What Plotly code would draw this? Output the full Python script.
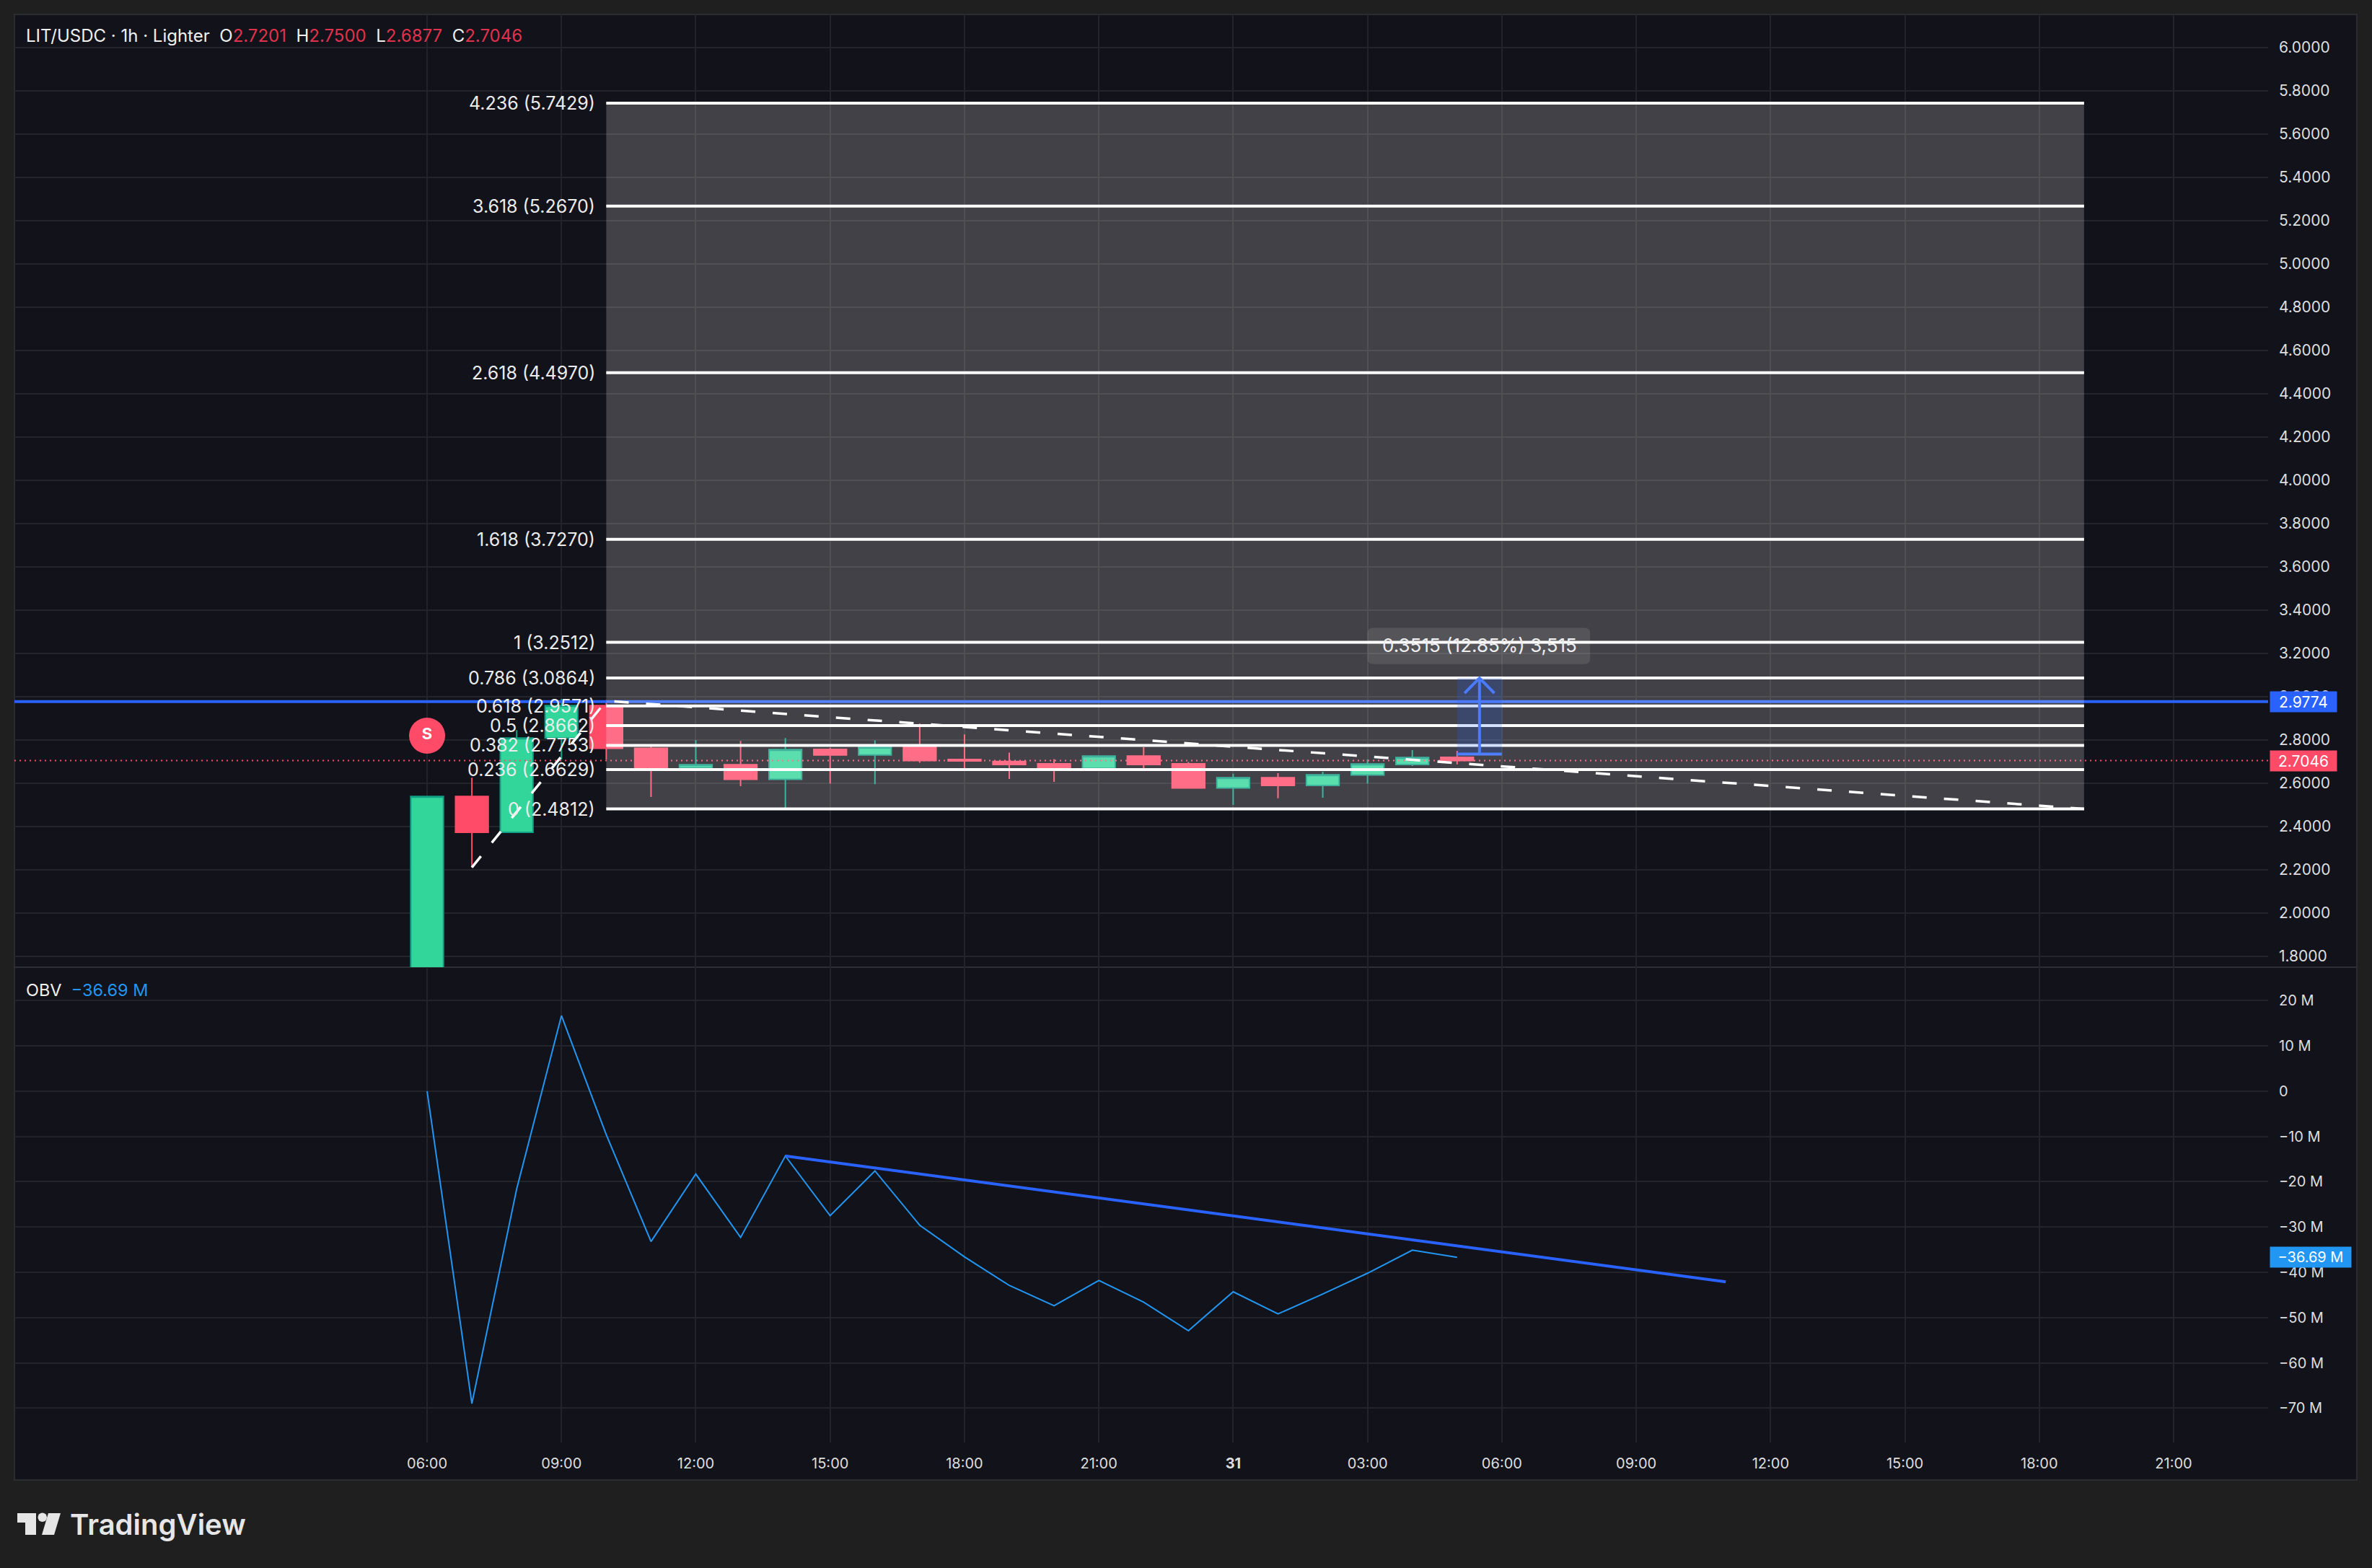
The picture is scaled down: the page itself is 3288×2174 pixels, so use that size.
import plotly.graph_objects as go

W, H = 3288, 2174
FONT = "Inter"

# hours counted from the 06:00 candle of the first day
hours = list(range(24))
opens = [1.50, 2.539, 2.373, 2.809, 2.959, 2.762, 2.671, 2.686, 2.618, 2.757, 2.731, 2.767,
         2.710, 2.701, 2.690, 2.669, 2.726, 2.690, 2.578, 2.626, 2.590, 2.638, 2.687, 2.7201]
highs = [2.539, 2.626, 2.846, 2.990, 2.984, 2.781, 2.800, 2.796, 2.809, 2.764, 2.798, 2.876,
         2.826, 2.742, 2.712, 2.726, 2.767, 2.698, 2.644, 2.647, 2.653, 2.711, 2.753, 2.7500]
lows = [1.50, 2.211, 2.373, 2.709, 2.709, 2.537, 2.671, 2.587, 2.487, 2.598, 2.596, 2.695,
        2.668, 2.620, 2.607, 2.669, 2.668, 2.578, 2.500, 2.531, 2.533, 2.598, 2.680, 2.6877]
closes = [2.539, 2.373, 2.809, 2.959, 2.762, 2.670, 2.686, 2.618, 2.756, 2.731, 2.767, 2.705,
          2.703, 2.687, 2.668, 2.726, 2.687, 2.578, 2.626, 2.590, 2.639, 2.689, 2.719, 2.7046]
obv = [0, -69.0, -21.6, 16.7, -9.6, -33.2, -18.3, -32.3, -14.3, -27.5, -17.6, -29.6,
       -36.6, -42.9, -47.4, -41.8, -46.6, -52.9, -44.3, -49.2, -44.8, -40.2, -35.1, -36.69]

# fib extension
fib_levels = ["0", "0.236", "0.382", "0.5", "0.618", "0.786", "1", "1.618", "2.618", "3.618", "4.236"]
fib_prices = [2.4812, 2.6629, 2.7753, 2.8662, 2.9571, 3.0864, 3.2512, 3.7270, 4.4970, 5.2670, 5.7429]
fib_hours = [4, 37]
zigzag_hours = [1, 4, 37]
zigzag_prices = [2.2112, 2.9812, 2.4812]

# OBV trend line and the ruler
obv_trend_hours = [8, 29]
obv_trend_values = [-14.3, -42.1]
ruler_hours = [23, 24]
ruler_prices = [2.7349, 3.0864]
ruler_box_hours = [21, 25.97]
ruler_box_prices = [3.151, 3.318]
alert_price = 2.9774
last_price = 2.7046
sell_hour, sell_price = 0, 2.82

price_ticks = [1.8, 2.0, 2.2, 2.4, 2.6, 2.8, 3.0, 3.2, 3.4, 3.6, 3.8, 4.0, 4.2, 4.4, 4.6, 4.8,
               5.0, 5.2, 5.4, 5.6, 5.8, 6.0]
obv_ticks = [20, 10, 0, -10, -20, -30, -40, -50, -60, -70]
obv_labels = ["20 M", "10 M", "0", "−10 M", "−20 M", "−30 M", "−40 M", "−50 M", "−60 M", "−70 M"]
time_ticks = [0, 3, 6, 9, 12, 15, 18, 21, 24, 27, 30, 33, 36, 39]
time_labels = ["06:00", "09:00", "12:00", "15:00", "18:00", "21:00", "<b>31</b>", "03:00",
               "06:00", "09:00", "12:00", "15:00", "18:00", "21:00"]

x_range = [-9.215, 41.11]
price_range = [1.75, 6.153]
obv_range = [-77.6, 27.4]

GREEN = "#33d69a"
GREEN_EDGE = "#11a186"
RED = "#ff4a68"
BLUE = "#2962ff"
OBV_BLUE = "#2196f3"
GRID = "#23232a"
TEXT = "#dedede"


def px(x):
    return x / W


def py(y):
    return 1 - y / H


def round_box(x0, x1, y0, y1, rx, ry):
    return (f"M {x0 + rx} {y0} L {x1 - rx} {y0} Q {x1} {y0} {x1} {y0 + ry} L {x1} {y1 - ry} "
            f"Q {x1} {y1} {x1 - rx} {y1} L {x0 + rx} {y1} Q {x0} {y1} {x0} {y1 - ry} "
            f"L {x0} {y0 + ry} Q {x0} {y0} {x0 + rx} {y0} Z")


fig = go.Figure()

fig.add_trace(go.Candlestick(
    x=hours, open=opens, high=highs, low=lows, close=closes, xaxis="x", yaxis="y",
    increasing=dict(fillcolor=GREEN, line=dict(color=GREEN_EDGE, width=2)),
    decreasing=dict(fillcolor=RED, line=dict(color=RED, width=2)),
    whiskerwidth=0,
))
# alert line, last price, then the drawings
fig.add_trace(go.Scatter(x=x_range, y=[alert_price, alert_price], mode="lines",
                         line=dict(color=BLUE, width=4), xaxis="x", yaxis="y"))
fig.add_trace(go.Scatter(x=x_range, y=[last_price, last_price], mode="lines",
                         line=dict(color=RED, width=2, dash="2px,5px"), xaxis="x", yaxis="y"))
for p in fib_prices:
    fig.add_trace(go.Scatter(x=fib_hours, y=[p, p], mode="lines",
                             line=dict(color="#ffffff", width=4), xaxis="x", yaxis="y"))
fig.add_trace(go.Scatter(x=zigzag_hours, y=zigzag_prices, mode="lines",
                         line=dict(color="#ffffff", width=3.5, dash="20px,24px"), xaxis="x", yaxis="y"))

# ruler
mid_hour = sum(ruler_hours) / 2
fig.add_trace(go.Scatter(x=ruler_hours, y=[ruler_prices[0]] * 2, mode="lines",
                         line=dict(color=BLUE, width=4), xaxis="x", yaxis="y"))
fig.add_trace(go.Scatter(x=[mid_hour, mid_hour], y=ruler_prices, mode="lines",
                         line=dict(color=BLUE, width=4), xaxis="x", yaxis="y"))
fig.add_trace(go.Scatter(x=[mid_hour - 0.333, mid_hour, mid_hour + 0.333],
                         y=[ruler_prices[1] - 0.07, ruler_prices[1], ruler_prices[1] - 0.07],
                         mode="lines", line=dict(color=BLUE, width=4), xaxis="x", yaxis="y"))

fig.add_trace(go.Scatter(x=[sell_hour], y=[sell_price], mode="markers+text", text=["S"],
                         textposition="middle center",
                         textfont=dict(family=FONT, size=22, color="#ffffff", weight=700),
                         marker=dict(color=RED, size=50, line=dict(width=0)),
                         xaxis="x", yaxis="y"))

# OBV pane
fig.add_trace(go.Scatter(x=hours, y=obv, mode="lines", line=dict(color=OBV_BLUE, width=2),
                         xaxis="x2", yaxis="y2"))
fig.add_trace(go.Scatter(x=obv_trend_hours, y=obv_trend_values, mode="lines",
                         line=dict(color=BLUE, width=4), xaxis="x2", yaxis="y2"))

shapes = [
    # chart frame, pane separator
    dict(type="rect", xref="paper", yref="paper", x0=px(20), x1=px(3267), y0=py(2052), y1=py(20),
         fillcolor="#12121a", line=dict(color="#2c2c30", width=2), layer="below"),
    dict(type="line", xref="paper", yref="paper", x0=px(20), x1=px(3267), y0=py(1341), y1=py(1341),
         line=dict(color="#2e2e34", width=2), layer="below"),
    # fib area lies over the candles
    dict(type="rect", xref="x", yref="y", x0=fib_hours[0], x1=fib_hours[1],
         y0=fib_prices[0], y1=fib_prices[-1], fillcolor="rgba(255,255,255,0.2)",
         line=dict(width=0), layer="above"),
    dict(type="rect", xref="x", yref="y", x0=ruler_hours[0], x1=ruler_hours[1],
         y0=ruler_prices[0], y1=ruler_prices[1], fillcolor="rgba(41,98,255,0.2)",
         line=dict(width=0), layer="above"),
    dict(type="path", xref="x", yref="y",
         path=round_box(ruler_box_hours[0], ruler_box_hours[1], ruler_box_prices[0], ruler_box_prices[1], 0.12, 0.025),
         fillcolor="rgba(255,255,255,0.1)", line=dict(width=0), layer="above"),
    # logo
    dict(type="path", xref="paper", yref="paper", fillcolor="#e6e6e6", line=dict(width=0),
         path=f"M {px(24)} {py(2098)} L {px(50)} {py(2098)} L {px(50)} {py(2128)} L {px(35)} {py(2128)} "
              f"L {px(35)} {py(2111)} L {px(24)} {py(2111)} Z"),
    dict(type="circle", xref="paper", yref="paper", fillcolor="#e6e6e6", line=dict(width=0),
         x0=px(52.5), x1=px(65), y0=py(2110), y1=py(2097.5)),
    dict(type="path", xref="paper", yref="paper", fillcolor="#e6e6e6", line=dict(width=0),
         path=f"M {px(67)} {py(2098)} L {px(84)} {py(2098)} L {px(75)} {py(2128)} L {px(58)} {py(2128)} Z"),
]

annotations = []
for level, p in zip(fib_levels, fib_prices):
    annotations.append(dict(x=fib_hours[0], y=p, xref="x", yref="y", xanchor="right", xshift=-13,
                            yanchor="middle", showarrow=False, text=f"{level} ({p:.4f})",
                            font=dict(family=FONT, size=25, color="#ececec")))

annotations.append(dict(x=mid_hour, y=3.237, xref="x", yref="y", showarrow=False, yanchor="middle",
                        text="0.3515 (12.85%) 3,515", font=dict(family=FONT, size=26, color="#eeeeee")))


def tag(text, value, yref, color, width, size):
    return dict(x=px(3146), y=value, xref="paper", yref=yref, xanchor="left", yanchor="middle",
                showarrow=False, text=text, bgcolor=color, width=width, height=28, align="center",
                borderpad=0, font=dict(family=FONT, size=size, color="#ffffff"))


annotations.append(tag("2.9774", alert_price, "y", BLUE, 92, 21))
annotations.append(tag("2.7046", last_price, "y", RED, 92, 21))
annotations.append(tag("−36.69 M", obv[-1], "y2", OBV_BLUE, 112, 20))

red_txt = "#e0324c"
header = (f"LIT/USDC · 1h · Lighter\u00a0\u00a0O<span style='color:{red_txt}'>2.7201</span>"
          f"\u00a0\u00a0H<span style='color:{red_txt}'>2.7500</span>"
          f"\u00a0\u00a0L<span style='color:{red_txt}'>2.6877</span>"
          f"\u00a0\u00a0C<span style='color:{red_txt}'>2.7046</span>")
annotations.append(dict(x=px(34), y=py(50), xref="paper", yref="paper", xanchor="left", yanchor="middle",
                        showarrow=False, text=header, font=dict(family=FONT, size=24, color="#f0f0f0")))
annotations.append(dict(x=px(34), y=py(1372), xref="paper", yref="paper", xanchor="left", yanchor="middle",
                        showarrow=False,
                        text=f"OBV\u00a0\u00a0<span style='color:{OBV_BLUE}'>−36.69 M</span>",
                        font=dict(family=FONT, size=23.5, color="#f0f0f0")))
annotations.append(dict(x=px(95), y=py(2113), xref="paper", yref="paper", xanchor="left", yanchor="middle",
                        showarrow=False, text="TradingView",
                        font=dict(family=FONT, size=40, color="#e6e6e6", weight=600)))

tick_font = dict(family=FONT, size=20, color=TEXT)
price_font = dict(family=FONT, size=21, color=TEXT)
fig.update_layout(
    width=W, height=H, margin=dict(l=0, r=0, t=0, b=0), autosize=False,
    paper_bgcolor="#1f1f1f", plot_bgcolor="rgba(0,0,0,0)",
    showlegend=False, hovermode=False, boxgap=0.27, boxgroupgap=0,
    shapes=shapes, annotations=annotations,
    xaxis=dict(domain=[px(20), px(3144)], range=x_range, anchor="y", tickvals=time_ticks,
               ticktext=[""] * len(time_ticks), showgrid=True, gridcolor=GRID, gridwidth=2,
               zeroline=False, showline=False, ticks="", rangeslider=dict(visible=False)),
    yaxis=dict(domain=[py(1341), py(20)], range=price_range, anchor="x", side="right",
               tickvals=price_ticks, tickformat=".4f", showgrid=True, gridcolor=GRID, gridwidth=2,
               zeroline=False, showline=False, ticks="", tickfont=price_font, ticklabelstandoff=14),
    xaxis2=dict(domain=[px(20), px(3144)], range=x_range, anchor="y2", tickvals=time_ticks,
                ticktext=time_labels, showgrid=True, gridcolor=GRID, gridwidth=2,
                zeroline=False, showline=False, ticks="", tickfont=tick_font, ticklabelstandoff=15),
    yaxis2=dict(domain=[py(2000), py(1341)], range=obv_range, anchor="x2", side="right",
                tickvals=obv_ticks, ticktext=obv_labels, showgrid=True, gridcolor=GRID, gridwidth=2,
                zeroline=False, showline=False, ticks="", tickfont=tick_font, ticklabelstandoff=14),
)

# the page's default body margin would shift the fixed-size chart
fig.write_html("out.html", config={"displayModeBar": False},
               post_script="document.body.style.margin='0';document.body.style.background='#1f1f1f';")
